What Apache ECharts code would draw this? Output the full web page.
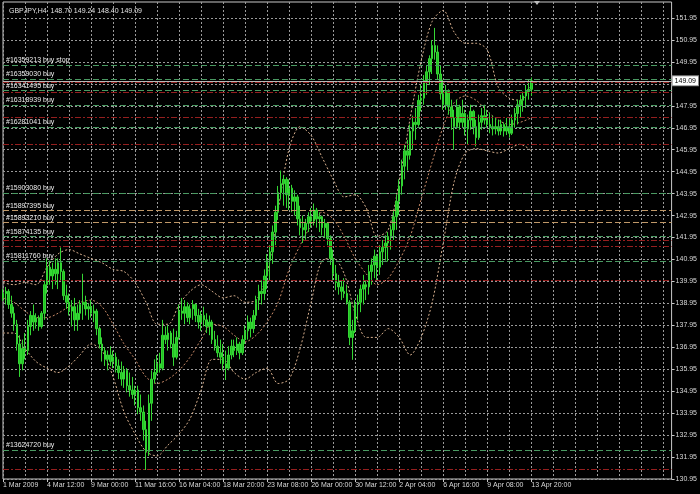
<!DOCTYPE html>
<html><head><meta charset="utf-8">
<script src="https://cdn.jsdelivr.net/npm/echarts@6/dist/echarts.min.js"></script>
<style>html,body{margin:0;padding:0;background:#000;}#c{width:700px;height:494px;}</style>
</head><body><div id="c"></div>
<script>
const symbolTitle = 'GBPJPY,H4  148.70 149.24 148.40 149.09';
const timeLabels = ['1 Mar 2009','4 Mar 12:00','9 Mar 00:00','11 Mar 16:00','16 Mar 04:00','18 Mar 20:00','23 Mar 08:00','26 Mar 00:00','30 Mar 12:00','2 Apr 04:00','6 Apr 16:00','9 Apr 08:00','13 Apr 20:00'];
const priceTicks = [130.95,131.95,132.95,133.95,134.95,135.95,136.95,137.95,138.95,139.95,140.95,141.95,142.95,143.95,144.95,145.95,146.95,147.95,148.95,149.95,150.95,151.95];

const opens = [139.2,139.4,139.5,138.9,138.5,138.0,137.1,136.2,136.9,136.8,
137.9,138.4,138.1,138.3,137.9,138.5,139.8,140.6,140.2,140.5,
140.3,140.8,140.4,139.3,139.0,138.6,138.8,138.2,138.5,138.9,
139.0,138.7,138.8,138.5,138.6,137.8,137.1,136.8,136.4,136.6,
136.3,136.5,136.1,135.8,135.5,135.9,135.2,135.0,134.8,135.0,
134.2,134.0,133.2,132.2,134.4,135.5,135.8,136.2,136.0,137.5,
137.3,137.6,137.1,136.5,137.4,138.6,138.5,138.8,138.3,138.7,
138.9,138.4,138.1,138.4,138.2,137.9,138.1,137.3,137.0,136.7,
136.5,136.2,136.0,136.6,137.0,136.8,137.1,136.7,137.3,137.7,
138.1,137.8,138.4,139.1,139.5,139.4,140.2,140.9,141.3,142.2,
143.1,144.0,144.4,144.6,143.9,144.2,143.6,143.8,142.8,142.4,
142.3,142.6,142.9,142.7,143.2,142.8,142.9,142.4,142.6,141.9,
141.0,140.3,139.9,139.7,139.5,139.4,139.0,137.4,137.7,138.9,
139.0,139.6,139.8,139.7,140.4,140.7,141.1,140.6,141.3,141.5,
141.7,142.0,142.3,142.9,143.6,144.3,145.2,145.9,145.7,146.8,
147.2,147.1,148.2,148.3,149.1,149.5,150.1,150.7,150.4,149.4,
148.5,148.0,148.6,147.9,147.4,147.0,147.9,147.2,147.6,146.9,
147.3,147.7,147.0,146.5,147.2,147.5,147.3,147.1,147.0,146.9,
147.0,146.8,147.1,146.8,147.0,146.7,147.3,147.6,148.0,148.2,
148.4,148.6,148.70];
const highs = [139.6,139.7,139.6,139.3,138.8,138.2,137.5,137.3,137.6,138.2,
138.6,138.9,138.5,138.4,138.6,140.0,141.0,140.9,140.8,141.0,
141.0,141.5,140.5,139.8,139.4,139.1,139.2,138.9,139.1,140.3,
139.3,138.95,139.1,138.9,138.7,137.9,137.4,136.95,136.8,137.0,
136.8,136.7,136.4,136.3,136.1,136.0,135.8,135.6,135.2,135.2,
134.8,134.3,133.6,134.8,135.9,136.4,136.6,136.7,138.2,137.9,
137.95,137.7,137.8,137.7,138.9,139.2,139.1,139.0,138.9,139.1,
138.95,138.7,138.6,138.8,138.5,138.4,138.2,137.7,137.5,137.3,
137.1,136.8,137.0,137.3,137.3,137.4,137.2,137.5,137.95,138.4,
138.3,138.65,139.3,139.8,140.0,140.5,141.2,141.6,142.5,143.4,
144.3,145.0,144.8,144.7,144.6,144.35,144.1,143.9,143.4,142.95,
142.8,143.1,143.3,143.5,143.3,143.1,142.95,142.8,142.65,142.05,
141.4,140.7,140.25,140.0,140.1,139.8,139.1,138.2,139.1,139.35,
139.8,140.25,140.0,140.7,141.0,141.4,141.2,141.6,141.84,142.05,
142.2,142.5,143.2,143.9,144.6,145.5,146.2,146.4,147.1,147.5,
147.85,148.45,148.9,149.35,149.8,150.25,150.95,151.5,150.7,149.8,
149.14,148.9,148.7,148.23,147.77,148.23,148.0,148.23,147.77,147.55,
148.0,147.77,147.32,147.55,147.85,148.0,147.77,147.65,147.5,147.4,
147.32,147.32,147.2,147.4,147.32,147.55,147.85,148.23,148.45,148.6,
148.9,149.14,149.24];
const lows = [139.06,138.9,138.7,138.3,137.7,136.8,135.6,135.9,136.4,136.6,
137.5,137.7,137.8,137.7,137.8,138.2,139.4,139.8,139.6,139.8,
139.6,140.0,139.1,138.7,138.4,137.9,137.7,137.7,138.2,138.2,
138.4,138.2,138.3,138.1,137.5,136.9,136.3,136.1,135.9,136.1,
136.0,135.8,135.5,135.2,135.1,134.9,134.7,134.6,134.3,133.9,
133.6,132.7,131.36,132.0,133.6,135.3,135.7,135.8,135.9,137.1,
136.8,136.9,136.1,136.4,137.3,138.2,138.0,138.1,138.0,138.2,
138.1,137.8,137.7,137.9,137.6,137.5,137.1,136.8,136.5,136.2,
135.9,135.46,135.9,136.4,136.5,136.6,136.4,136.6,137.1,137.3,
137.4,137.6,138.2,138.65,138.9,139.1,139.6,140.0,140.75,141.6,
142.75,143.7,143.4,143.3,143.2,143.1,142.95,142.5,142.05,141.7,
141.85,142.2,142.4,142.5,142.4,142.2,142.05,141.95,141.6,140.7,
140.0,139.55,139.35,139.1,139.2,138.9,137.05,136.38,137.6,138.2,
138.55,138.9,139.1,139.35,139.8,140.1,140.0,140.25,140.7,140.9,
140.85,141.4,141.84,142.3,142.98,143.9,144.6,145.0,145.5,145.95,
146.4,147.0,147.7,148.0,148.45,148.9,149.4,150.05,149.14,148.23,
147.77,147.77,147.55,146.86,145.95,146.9,146.86,146.95,146.6,146.2,
146.86,146.65,146.1,146.4,146.86,147.1,146.95,146.7,146.6,146.65,
146.6,146.62,146.55,146.62,146.5,146.62,146.95,147.1,147.4,147.68,
147.86,148.23,148.40];
const closes = [139.4,139.5,138.9,138.5,138.0,137.1,136.2,136.9,136.8,137.9,
138.4,138.1,138.3,137.9,138.5,139.8,140.6,140.2,140.5,140.3,
140.8,140.4,139.3,139.0,138.6,138.8,138.2,138.5,138.9,139.0,
138.7,138.8,138.5,138.6,137.8,137.1,136.8,136.4,136.6,136.3,
136.5,136.1,135.8,135.5,135.9,135.2,135.0,134.8,135.0,134.2,
134.0,133.2,132.2,134.4,135.5,135.8,136.2,136.0,137.5,137.3,
137.6,137.1,136.5,137.4,138.6,138.5,138.8,138.3,138.7,138.9,
138.4,138.1,138.4,138.2,137.9,138.1,137.3,137.0,136.7,136.5,
136.2,136.0,136.6,137.0,136.8,137.1,136.7,137.3,137.7,138.1,
137.8,138.4,139.1,139.5,139.4,140.2,140.9,141.3,142.2,143.1,
144.0,144.4,144.6,143.9,144.2,143.6,143.8,142.8,142.4,142.3,
142.6,142.9,142.7,143.2,142.8,142.9,142.4,142.6,141.9,141.0,
140.3,139.9,139.7,139.5,139.4,139.0,137.4,137.7,138.9,139.0,
139.6,139.8,139.7,140.4,140.7,141.1,140.6,141.3,141.5,141.7,
142.0,142.3,142.9,143.6,144.3,145.2,145.9,145.7,146.8,147.2,
147.1,148.2,148.3,149.1,149.5,150.1,150.7,150.4,149.4,148.5,
148.0,148.6,147.9,147.4,147.0,147.9,147.2,147.6,146.9,147.3,
147.7,147.0,146.5,147.2,147.5,147.3,147.1,147.0,146.9,147.0,
146.8,147.1,146.8,147.0,146.7,147.3,147.6,148.0,148.2,148.4,
148.6,148.70,149.09];

const bandIdx = [0,4,8,12,16,20,24,28,32,36,40,44,48,52,56,60,64,68,72,76,80,84,88,92,96,100,104,108,112,116,120,124,128,132,136,140,144,148,152,156,160,164,168,172,176,180,184,188,192];
const upperBand = [139.9,139.8,139.9,139.8,140.6,141.2,141.4,141.2,141.0,140.8,140.5,140.4,139.9,139.0,138.0,138.0,138.9,139.5,139.8,139.5,139.2,139.3,139.0,139.1,140.3,143.2,146.0,147.0,146.6,145.6,144.6,143.8,143.9,143.3,142.0,142.3,144.5,147.4,150.0,151.8,152.3,151.3,150.8,150.8,150.5,148.8,148.3,148.2,148.9];
const middleBand = [139.2,139.0,138.6,138.3,138.3,138.5,138.8,139.0,139.1,138.8,138.0,137.1,136.4,135.6,135.3,135.5,135.9,136.5,137.3,138.0,137.9,137.5,137.2,137.5,138.1,139.0,140.5,141.6,142.5,143.1,142.8,142.0,141.0,140.3,139.8,140.1,140.9,142.0,143.7,145.4,147.0,148.1,148.4,148.2,147.7,147.3,147.1,147.2,147.4];
const lowerBand = [137.6,137.6,136.9,136.3,136.0,135.8,136.1,136.6,137.1,136.8,135.6,134.0,133.0,132.2,132.0,132.5,133.0,133.7,135.0,136.4,136.4,135.8,135.5,135.8,136.0,135.3,135.5,136.9,139.0,140.9,141.0,140.3,138.5,137.4,137.4,137.8,137.4,136.6,137.4,139.0,141.7,144.5,145.8,146.0,145.9,145.8,146.0,146.2,145.9];

const orderLabels = ['#16359213 buy stop','#16359030 buy','#16341495 buy','#16318939 buy','#16281041 buy','#15903080 buy','#15897395 buy','#15893210 buy','#15874135 buy','#15811760 buy','#13624720 buy'];
const orderPrices = [149.82,149.18,148.64,147.99,146.99,143.99,143.18,142.63,141.99,140.89,132.27];
const stopPrices = [149.02,148.55,147.44,146.18,141.84,141.57,139.99,131.39];
const bidPrice = 149.09;

const slotCount = 244;
const categories = Array.from({length: slotCount}, (_, i) => String(i));
const candleData = closes.map((c, i) => [opens[i], c, lows[i], highs[i]]);
const tanOrders = {'#15897395 buy': 1, '#15893210 buy': 1};
const FONT = 'Liberation Sans';

const orderLines = orderLabels.map((t, k) => ({
  yAxis: orderPrices[k],
  lineStyle: {color: tanOrders[t] ? '#c09868' : '#4a9a62', type: [6, 3], width: 1},
  label: {show: true, position: 'insideStartTop', formatter: t, color: '#ececec', fontSize: 7, fontFamily: FONT, distance: [3, 1]}
}));
const stopLines = stopPrices.map(p => ({
  yAxis: p,
  lineStyle: {color: '#951f1f', type: [6, 2, 2, 2], width: 1},
  label: {show: false}
}));
const bidLine = {
  yAxis: bidPrice,
  lineStyle: {color: '#b8b8b8', type: 'solid', width: 1},
  label: {show: true, position: 'end', formatter: bidPrice.toFixed(2), color: '#000', backgroundColor: '#fff', borderColor: '#888', borderWidth: 1, padding: [1, 2], fontSize: 7, fontFamily: FONT, distance: 1}
};

const bandStyle = (c) => ({color: c, type: [2, 2], width: 1});
const chart = echarts.init(document.getElementById('c'), null, {renderer: 'canvas'});
chart.setOption({
  animation: false,
  backgroundColor: '#000',
  title: {text: symbolTitle, left: 4, top: 3, textStyle: {color: '#e0e0e0', fontSize: 7, fontWeight: 'normal', fontFamily: FONT}},
  grid: {left: 1, top: 2, width: 671, height: 477, show: true, borderColor: '#c8c8c8', borderWidth: 1, backgroundColor: '#000'},
  xAxis: {
    type: 'category', data: categories, boundaryGap: false,
    axisLine: {show: false},
    axisTick: {show: true, interval: (i) => i % 16 === 0 && i / 16 < timeLabels.length, length: 3, lineStyle: {color: '#c8c8c8'}},
    axisLabel: {interval: (i) => i % 16 === 0 && i / 16 < timeLabels.length, formatter: (v) => timeLabels[Number(v) / 16] || '', align: 'left', color: '#d8d8d8', fontSize: 7, fontFamily: FONT, margin: 3},
    splitLine: {show: true, interval: (i) => i % 8 === 0, lineStyle: {color: '#9a9a9a', type: [2, 2], width: 1}}
  },
  yAxis: {
    type: 'value', position: 'right', min: 130.95, max: 152.68,
    axisLine: {show: false},
    axisTick: {show: true, customValues: priceTicks, length: 3, lineStyle: {color: '#c8c8c8'}},
    axisLabel: {customValues: priceTicks, formatter: (v) => v.toFixed(2), color: '#d8d8d8', fontSize: 7, fontFamily: FONT, margin: 4},
    splitLine: {show: true, lineStyle: {color: '#9a9a9a', type: [2, 2], width: 1}}
  },
  series: [
    {type: 'line', data: bandIdx.map((x, k) => [x, upperBand[k]]), showSymbol: false, smooth: 0.3, lineStyle: bandStyle('#d8b08e'), z: 2},
    {type: 'line', data: bandIdx.map((x, k) => [x, middleBand[k]]), showSymbol: false, smooth: 0.3, lineStyle: bandStyle('#c98a68'), z: 2},
    {type: 'line', data: bandIdx.map((x, k) => [x, lowerBand[k]]), showSymbol: false, smooth: 0.3, lineStyle: bandStyle('#d8b08e'), z: 2},
    {
      type: 'candlestick', data: candleData, barWidth: 2, z: 3,
      itemStyle: {color: '#22c422', color0: '#22c422', borderColor: '#34d634', borderColor0: '#34d634', borderWidth: 1},
      markLine: {symbol: 'none', silent: true, animation: false, data: [...stopLines, ...orderLines, bidLine]}
    }
  ],
  graphic: [{type: 'polygon', shape: {points: [[534, 1], [540, 1], [537, 5]]}, style: {fill: '#bbbbbb'}, z: 10}]
});
</script></body></html>
